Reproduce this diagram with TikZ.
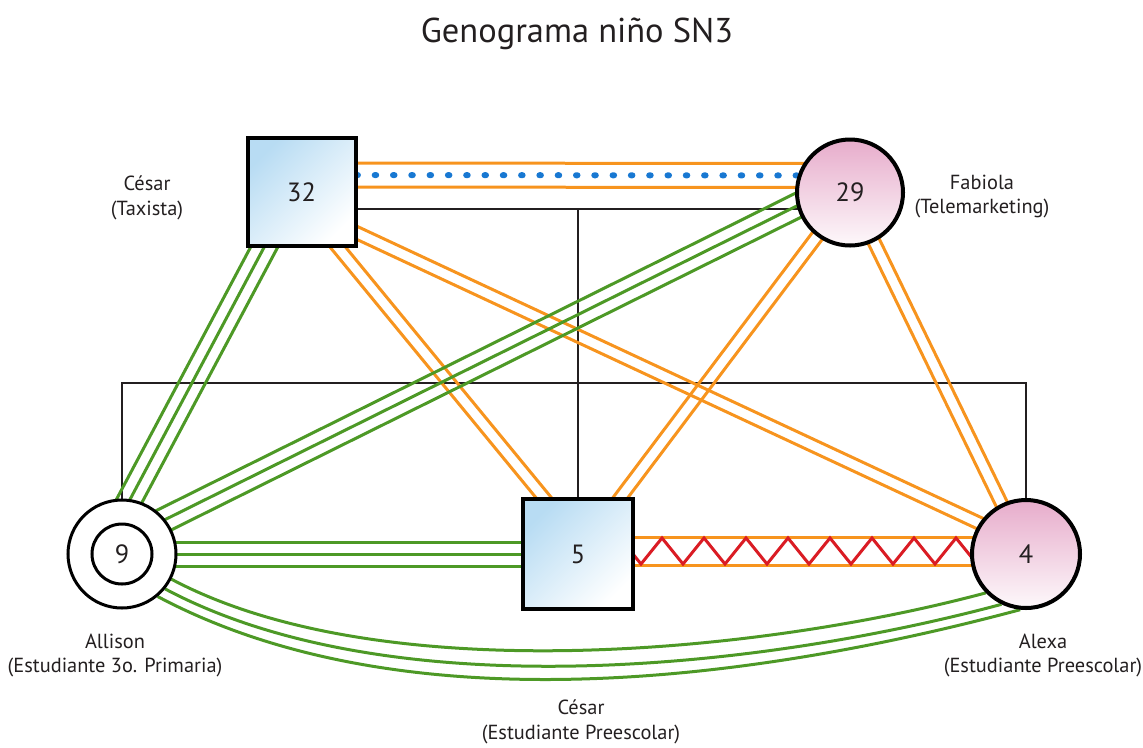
\documentclass[tikz,border=0pt]{standalone}
\usepackage{fontspec}
\setmainfont{PT Sans}
\usetikzlibrary{calc,backgrounds}

\definecolor{ink}{RGB}{35,31,32}
\definecolor{bondorange}{RGB}{247,148,30}
\definecolor{bondgreen}{RGB}{77,153,38}
\definecolor{bondred}{RGB}{218,28,36}
\definecolor{bondblue}{RGB}{24,120,210}
\definecolor{malefill}{RGB}{184,220,243}
\definecolor{femalefill}{RGB}{231,172,203}

\tikzset{
  male/.style={draw=black, line width=0.04cm, minimum size=1.08cm, inner sep=0pt,
    top color=malefill, bottom color=white, shading angle=45,
    text=ink, font=\fontsize{7.5}{9}\selectfont},
  female/.style={circle, draw=black, line width=0.04cm, minimum size=1.06cm, inner sep=0pt,
    top color=femalefill, bottom color=femalefill!8,
    text=ink, font=\fontsize{7.5}{9}\selectfont},
  who/.style={align=center, text=ink, font=\fontsize{5.8}{7.1}\selectfont},
  heading/.style={text=ink, font=\fontsize{9.8}{12}\selectfont},
  family/.style={draw=ink, line width=0.02cm},
  close/.style={draw=bondorange, line width=0.03cm},
  kin/.style={draw=bondgreen, line width=0.03cm},
  dots/.style={draw=bondblue, line width=0.06cm, line cap=round, dash pattern=on 0.015cm off 0.168cm},
  conflict/.style={draw=bondred, line width=0.03cm, line join=miter}
}

\begin{document}
\begin{tikzpicture}
\useasboundingbox (0,0) rectangle (11.43,-7.47);

\node[heading] (title) at (5.77,-0.335) {Genograma niño SN3};

% people
\node[male] (sq32) at (3.015,-1.92) {32};
\node[female] (c29) at (8.50,-1.925) {29};
\node[circle, draw=black, line width=0.03cm, fill=white, minimum size=1.08cm] (allison) at (1.22,-5.54) {};
\node[circle, draw=black, line width=0.03cm, minimum size=0.60cm, inner sep=0pt, text=ink,
  font=\fontsize{7.5}{9}\selectfont] (allisonin) at (allison) {9};
\node[male, minimum size=1.10cm] (sq5) at (5.78,-5.54) {5};
\node[female, minimum size=1.08cm] (c4) at (10.26,-5.54) {4};

\node[who] (cesar) at (1.47,-1.975) {César\\(Taxista)};
\node[who] (fabiola) at (9.82,-1.965) {Fabiola\\(Telemarketing)};
\node[who] (allisonname) at (1.15,-6.555) {Allison\\(Estudiante 3o. Primaria)};
\node[who] (alexaname) at (10.43,-6.555) {Alexa\\(Estudiante Preescolar)};
\node[who] (cesarname) at (5.81,-7.22) {César\\(Estudiante Preescolar)};

\coordinate (wed) at (5.76,-2.09);
\coordinate (kids) at (5.76,-3.83);
\coordinate (a1) at ([xshift=-0.09cm]sq32.center);
\coordinate (b1) at ([xshift=0.12cm]sq5.center);
\coordinate (a2) at ([yshift=-0.15cm]sq32.center);
\coordinate (b2) at ([yshift=0.09cm]c4.center);
\coordinate (g1) at ([xshift=-0.08cm]sq32.center);
\coordinate (g2) at ([xshift=-0.21cm]allison.center);
\coordinate (g3) at ([yshift=0.13cm]c29.center);
\coordinate (g4) at ([yshift=0.13cm]allison.center);
\coordinate (zz) at ([xshift=-0.255cm,yshift=0.03cm]sq5.east);

\begin{pgfonlayer}{background}
% family lines
\draw[family] (sq32 |- wed) -- (c29 |- wed);
\draw[family] (sq5.north |- wed) -- (sq5.north);
\draw[family] (allison.north) -- (allison.north |- kids) -- (c4.north |- kids) -- (c4.north);

% couple
\foreach \o in {0.05,0.29}
  \draw[close] ([yshift=\o cm]sq32.center) -- ([yshift=\o cm]c29.center);
\draw[dots] ([yshift=0.17cm]sq32.center) -- ([yshift=0.17cm]c29.center);

% close ties
\foreach \p/\q in {a1/b1, a2/b2, c29/sq5, c29/c4}
  \foreach \o in {-0.06cm,0.06cm}
    \draw[close] ($(\p)!\o!90:(\q)$) -- ($(\q)!\o!-90:(\p)$);

% green ties
\foreach \p/\q in {g1/g2, g3/g4, allison/sq5}
  \foreach \o in {-0.12cm,0cm,0.12cm}
    \draw[kin] ($(\p)!\o!90:(\q)$) -- ($(\q)!\o!-90:(\p)$);
\foreach \a/\b/\l in {-27/-136/2.36, -39/-116/2.54, -50/-96/2.78}
  \draw[kin] (allison.\a) .. controls +(-28:\l) and +(195:\l) .. (c4.\b);

% brothers
\foreach \o in {0.17,-0.11}
  \draw[close] ([yshift=\o cm]sq5.center) -- ([yshift=\o cm]c4.center);
\draw[conflict] (zz) \foreach \k in {1,...,9} { -- ++(0.105,0.13) -- ++(0.21,-0.26) -- ++(0.105,0.13) };
\end{pgfonlayer}
\end{tikzpicture}
\end{document}
